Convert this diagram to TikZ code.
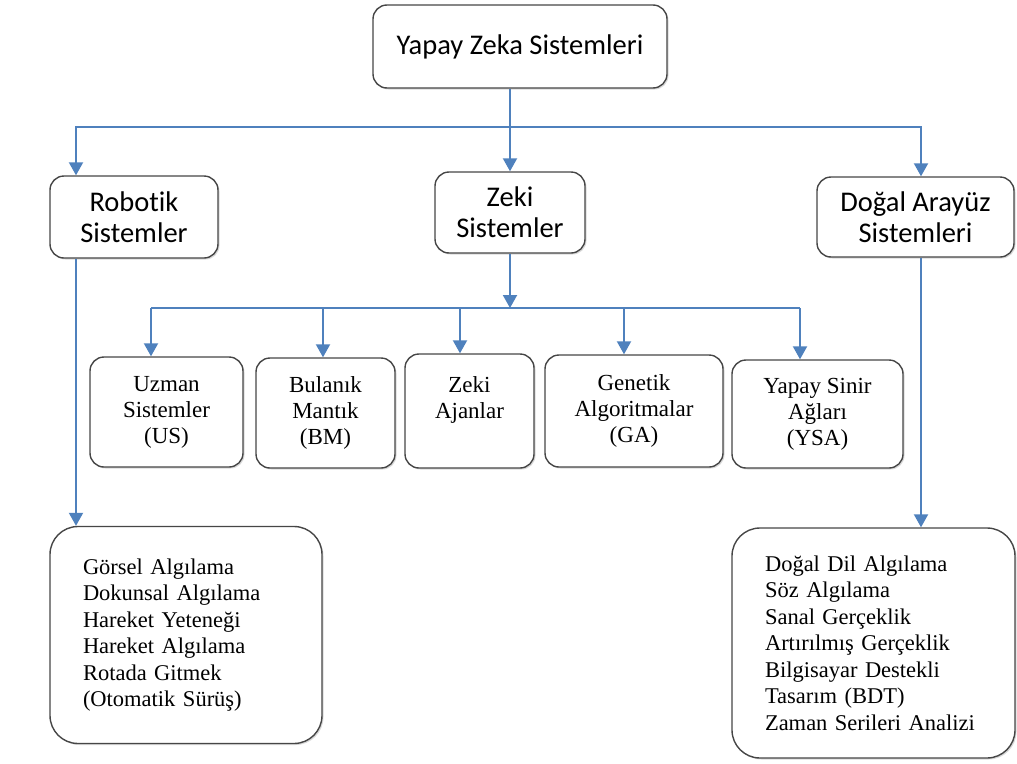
\documentclass[tikz,border=0pt]{standalone}
\usepackage{fontspec}
\setmainfont{Liberation Serif}
\newfontfamily\cbfont[Ligatures=NoCommon]{Carlito}
\usetikzlibrary{arrows.meta,shadows}
\definecolor{linkblue}{RGB}{79,129,189}
\definecolor{boxgray}{RGB}{70,70,70}
\tikzset{
  sysbox/.style={draw=boxgray, line width=1.4pt, rounded corners=14pt, fill=white,
    drop shadow={shadow xshift=1.5pt, shadow yshift=-1.5pt, opacity=0.3},
    align=center, inner sep=0pt},
  topbox/.style={sysbox, font=\cbfont\fontsize{28.5}{31}\selectfont},
  subbox/.style={sysbox, font=\fontsize{23}{26}\selectfont},
  listbox/.style={sysbox, rounded corners=28pt, font=\fontsize{22.5}{26.5}\selectfont,
    align=left, inner xsep=33pt},
  blueline/.style={draw=linkblue, line width=2pt},
  arr/.style={blueline, -{Triangle[width=14pt,length=13pt]}}
}
\begin{document}
\begin{tikzpicture}[x=1pt,y=-1pt]
  \useasboundingbox (0,0) rectangle (1017,763);

  \node[topbox, minimum width=294pt, minimum height=83pt] (yzs) at (520,46.5) {Yapay Zeka Sistemleri};
  \node[topbox, minimum width=168pt, minimum height=82pt] (robotik) at (134,217) {Robotik\\Sistemler};
  \node[topbox, minimum width=150pt, minimum height=81pt] (zeki) at (510,212.5) {Zeki\\Sistemler};
  \node[topbox, minimum width=197pt, minimum height=80pt] (dogal) at (915.5,217) {Doğal Arayüz\\Sistemleri};

  \node[subbox, minimum width=153pt, minimum height=110pt] (us) at (166.5,412) {Uzman\\Sistemler\\(US)};
  \node[subbox, minimum width=139pt, minimum height=110pt] (bm) at (325.5,413) {Bulanık\\Mantık\\(BM)};
  \node[subbox, minimum width=129pt, minimum height=114pt] (za) at (469.5,411) {Zeki\\Ajanlar\\\mbox{}};
  \node[subbox, minimum width=178pt, minimum height=112pt] (ga) at (634,411) {Genetik\\Algoritmalar\\(GA)};
  \node[subbox, minimum width=171pt, minimum height=108pt] (ysa) at (817.5,414) {Yapay Sinir\\Ağları\\(YSA)};

  \node[listbox, text width=206pt, minimum height=217pt] (robliste) at (186,635)
    {Görsel Algılama\\Dokunsal Algılama\\Hareket Yeteneği\\Hareket Algılama\\Rotada Gitmek\\(Otomatik Sürüş)};
  \node[listbox, text width=217pt, minimum height=230pt] (dogliste) at (873.5,643)
    {Doğal Dil Algılama\\Söz Algılama\\Sanal Gerçeklik\\Artırılmış Gerçeklik\\Bilgisayar Destekli\\Tasarım (BDT)\\Zaman Serileri Analizi};

  \coordinate (ust) at (510,127);
  \coordinate (robx) at (76,127);
  \coordinate (dogx) at (921,127);
  \draw[blueline] (yzs.south -| ust) -- (ust);
  \draw[arr] (ust) -- (zeki.north);
  \draw[arr] (ust) -- (robx) -- (robx |- robotik.north);
  \draw[arr] (ust) -- (dogx) -- (dogx |- dogal.north);
  \draw[arr] (robx |- robotik.south) -- (robx |- robliste.north);
  \draw[arr] (dogx |- dogal.south) -- (dogx |- dogliste.north);

  \coordinate (alt) at (510,308);
  \coordinate (busl) at (151,308);
  \coordinate (busr) at (800,308);
  \draw[arr] (zeki.south) -- (alt);
  \draw[blueline] (busl) -- (busr);
  \foreach \x/\n in {151/us, 323/bm, 460/za, 624/ga, 800/ysa}
    \draw[arr] (\x,308) -- (\n.north -| \x,308);
\end{tikzpicture}
\end{document}
